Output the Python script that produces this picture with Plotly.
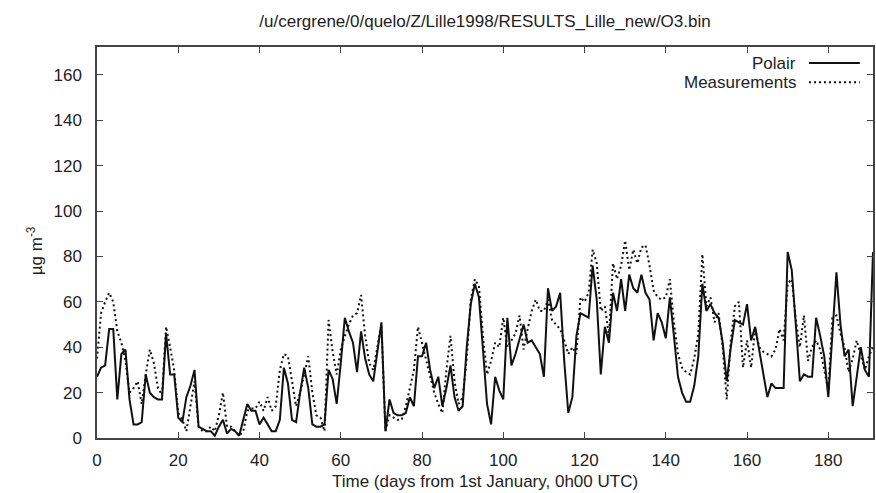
import plotly.graph_objects as go

days = list(range(192))

polair = [
    27, 31, 32, 48, 48, 17, 37, 39, 17, 6,
    6, 7, 28, 20, 18, 17, 17, 46, 28, 28,
    9, 7, 18, 23, 30, 5, 4, 3, 3, 1,
    5, 8, 2, 4, 3, 1, 8, 15, 12, 12,
    6, 9, 6, 3, 3, 8, 31, 24, 8, 7,
    20, 31, 22, 6, 5, 5, 6, 30, 26, 15,
    33, 53, 47, 42, 29, 47, 35, 28, 25, 38,
    51, 3, 17, 11, 10, 10, 11, 18, 14, 36,
    36, 42, 30, 22, 27, 14, 22, 32, 18, 12,
    14, 40, 59, 68, 62, 39, 15, 6, 27, 21,
    17, 53, 32, 37, 44, 50, 42, 43, 40, 37,
    27, 66, 56, 58, 64, 34, 11, 18, 45, 55,
    54, 53, 76, 61, 28, 49, 42, 64, 56, 70,
    56, 72, 66, 64, 72, 64, 61, 43, 55, 51,
    44, 62, 45, 27, 20, 16, 16, 23, 36, 68,
    56, 59, 55, 53, 42, 25, 40, 52, 51, 50,
    59, 43, 49, 39, 28, 18, 24, 22, 22, 22,
    82, 74, 50, 25, 28, 27, 27, 53, 45, 36,
    18, 46, 73, 50, 36, 39, 14, 27, 40, 30,
    27, 82,
]

measurements = [
    35, 55, 60, 64, 60, 47, 42, 34, 20, 22,
    25, 15, 28, 39, 33, 22, 19, 49, 40, 30,
    11, 8, 3, 14, 25, 5, 3, 3, 5, 3,
    10, 20, 5, 5, 3, 1, 3, 12, 13, 13,
    16, 12, 18, 12, 14, 30, 37, 36, 25, 14,
    20, 28, 36, 20, 10, 9, 3, 52, 38, 28,
    39, 45, 50, 54, 55, 63, 45, 33, 30, 40,
    50, 3, 10, 9, 8, 8, 14, 22, 30, 49,
    42, 35, 27, 20, 15, 11, 30, 45, 25, 15,
    18, 35, 61, 70, 67, 45, 28, 34, 42, 40,
    53, 40, 43, 46, 54, 39, 48, 56, 61, 56,
    56, 61, 52, 50, 48, 43, 37, 40, 37, 62,
    60, 64, 83, 77, 56, 58, 45, 77, 70, 76,
    87, 74, 83, 77, 84, 85, 76, 65, 62, 61,
    62, 70, 51, 37, 31, 29, 28, 35, 46, 81,
    58, 62, 51, 55, 40, 17, 43, 58, 60, 31,
    43, 31, 48, 40, 38, 37, 36, 39, 48, 43,
    68, 70, 52, 40, 54, 34, 40, 43, 39, 30,
    21, 53, 54, 46, 40, 29, 35, 43, 36, 30,
    36, 40,
]

x_ticks = [0, 20, 40, 60, 80, 100, 120, 140, 160, 180]
y_ticks = [0, 20, 40, 60, 80, 100, 120, 140, 160]

title_text = "/u/cergrene/0/quelo/Z/Lille1998/RESULTS_Lille_new/O3.bin"
x_title = "Time (days from 1st January, 0h00 UTC)"
y_title = "µg m<sup>-3</sup>"
series_names = ["Polair", "Measurements"]

FONT = "Liberation Sans, Arial, sans-serif"

fig = go.Figure()
fig.add_trace(go.Scatter(x=days, y=polair, mode="lines", name=series_names[0],
                         line=dict(color="#111111", width=2, dash="solid"),
                         showlegend=False))
fig.add_trace(go.Scatter(x=days, y=measurements, mode="lines", name=series_names[1],
                         line=dict(color="#111111", width=2, dash="2px,3px"),
                         showlegend=False))

axis_common = dict(
    showline=True, linecolor="#444444", linewidth=1.5, mirror="allticks",
    ticks="inside", ticklen=6, tickwidth=1, tickcolor="#444444",
    showgrid=False, zeroline=False,
    tickfont=dict(family=FONT, size=17, color="#222222"),
)

fig.update_xaxes(range=[0, 191], tickvals=x_ticks, ticklabelstandoff=6, **axis_common)
fig.update_yaxes(range=[0, 172.3], tickvals=y_ticks, ticklabelstandoff=10, **axis_common)

# legend (gnuplot style: text then sample on the right)
leg_text_x = 0.9034
leg_line_x0, leg_line_x1 = 0.9175, 0.983
leg_rows = [(0.959, "solid"), (0.910, "dot")]
annotations = []
shapes = []
for (yy, dash), name in zip(leg_rows, series_names):
    annotations.append(dict(x=leg_text_x, y=yy, xref="paper", yref="paper", text=name,
                            showarrow=False, xanchor="right", yanchor="middle",
                            font=dict(family=FONT, size=17, color="#222222")))
    shapes.append(dict(type="line", xref="paper", yref="paper",
                       x0=leg_line_x0, x1=leg_line_x1, y0=yy, y1=yy,
                       line=dict(color="#111111", width=2,
                                 dash="solid" if dash == "solid" else "2px,3px")))

annotations.append(dict(x=0.5, y=-0.11, xref="paper", yref="paper", text=x_title,
                        showarrow=False, xanchor="center", yanchor="middle",
                        font=dict(family=FONT, size=17, color="#222222")))
annotations.append(dict(x=-0.08, y=0.48, xref="paper", yref="paper", text=y_title,
                        showarrow=False, xanchor="center", yanchor="middle", textangle=-90,
                        font=dict(family=FONT, size=17, color="#222222")))

fig.update_layout(
    width=876, height=493,
    margin=dict(l=97, r=3, t=47, b=55, autoexpand=False),
    paper_bgcolor="white", plot_bgcolor="white",
    title=dict(text=title_text, x=0.5, xref="paper", xanchor="center",
               y=1 - 21 / 493, yref="container", yanchor="middle",
               font=dict(family=FONT, size=17, color="#222222")),
    annotations=annotations, shapes=shapes,
    showlegend=False,
)

fig.write_html("out.html")
